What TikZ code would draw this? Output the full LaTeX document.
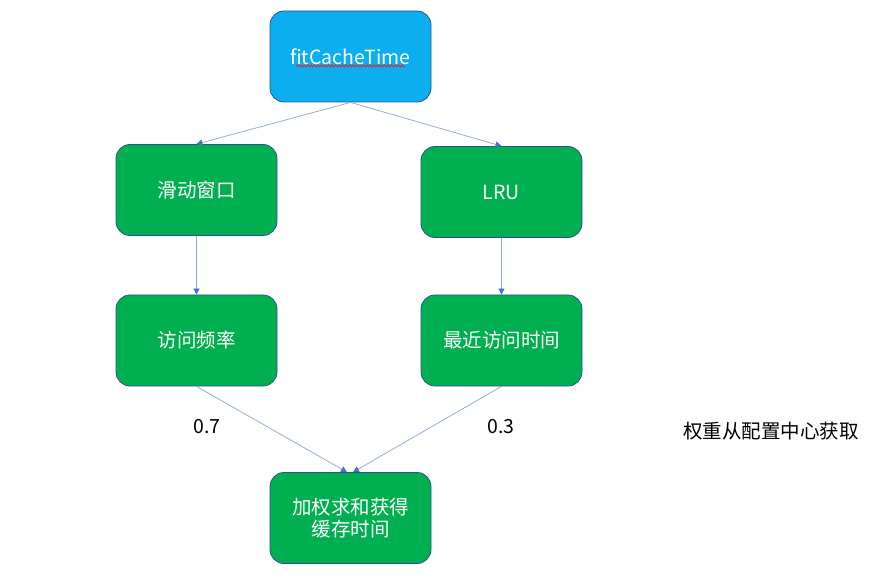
\documentclass[tikz,border=0pt]{standalone}
\usepackage{fontspec}
\setmainfont{Noto Sans CJK SC}
\usetikzlibrary{arrows.meta,decorations.pathmorphing}
\definecolor{boxgreen}{HTML}{00B050}
\definecolor{boxblue}{HTML}{0BAFEF}
\definecolor{boxedge}{HTML}{2F528F}
\definecolor{linkblue}{HTML}{8FAADC}
\definecolor{tipblue}{HTML}{4472C4}
\definecolor{squigred}{HTML}{E0282A}
\begin{document}
\begin{tikzpicture}[x=1pt,y=-1pt,
  basebox/.style={draw=boxedge, line width=0.8pt, rounded corners=14pt,
    minimum width=161pt, minimum height=91pt, inner sep=0pt, text=white,
    align=center, font=\fontsize{19.5}{22.5}\selectfont},
  gbox/.style={basebox, fill=boxgreen},
  topbox/.style={basebox, fill=boxblue},
  plain/.style={text=black, inner sep=0pt, font=\fontsize{19.5}{22.5}\selectfont},
  link/.style={draw=linkblue, line width=0.75pt,
    -{Triangle[length=6pt,width=6pt,fill=tipblue,color=tipblue]}},
  squiggle/.style={draw=squigred, line width=0.9pt, decorate,
    decoration={snake, amplitude=1pt, segment length=3.5pt}}]
\useasboundingbox (0,0) rectangle (887,580);
\node[topbox] (top) at (350.5,56.5) {fitCacheTime};
\node[gbox] (win) at (196.5,190) {滑动窗口};
\node[gbox] (lru) at (501.5,192) {LRU};
\node[gbox] (freq) at (196.5,340.5) {访问频率};
\node[gbox] (recent) at (501.5,340.5) {最近访问时间};
\node[gbox] (sum) at (350.5,518) {加权求和获得\\缓存时间};
\node[plain] (w1) at (207,427) {0.7};
\node[plain] (w2) at (501,427) {0.3};
\node[plain] (note) at (771,431) {权重从配置中心获取};
\coordinate (sqa) at (296,66);
\coordinate (sqb) at (405,66);
\draw[squiggle] (sqa) -- (sqb);
\draw[link] (top.south) -- (win.north);
\draw[link] (top.south) -- (lru.north);
\draw[link] (win.south) -- (freq.north);
\draw[link] (lru.south) -- (recent.north);
\draw[link] (freq.south) -- ([xshift=-3.5pt]sum.north);
\draw[link] (recent.south) -- ([xshift=2.5pt]sum.north);
\end{tikzpicture}
\end{document}
